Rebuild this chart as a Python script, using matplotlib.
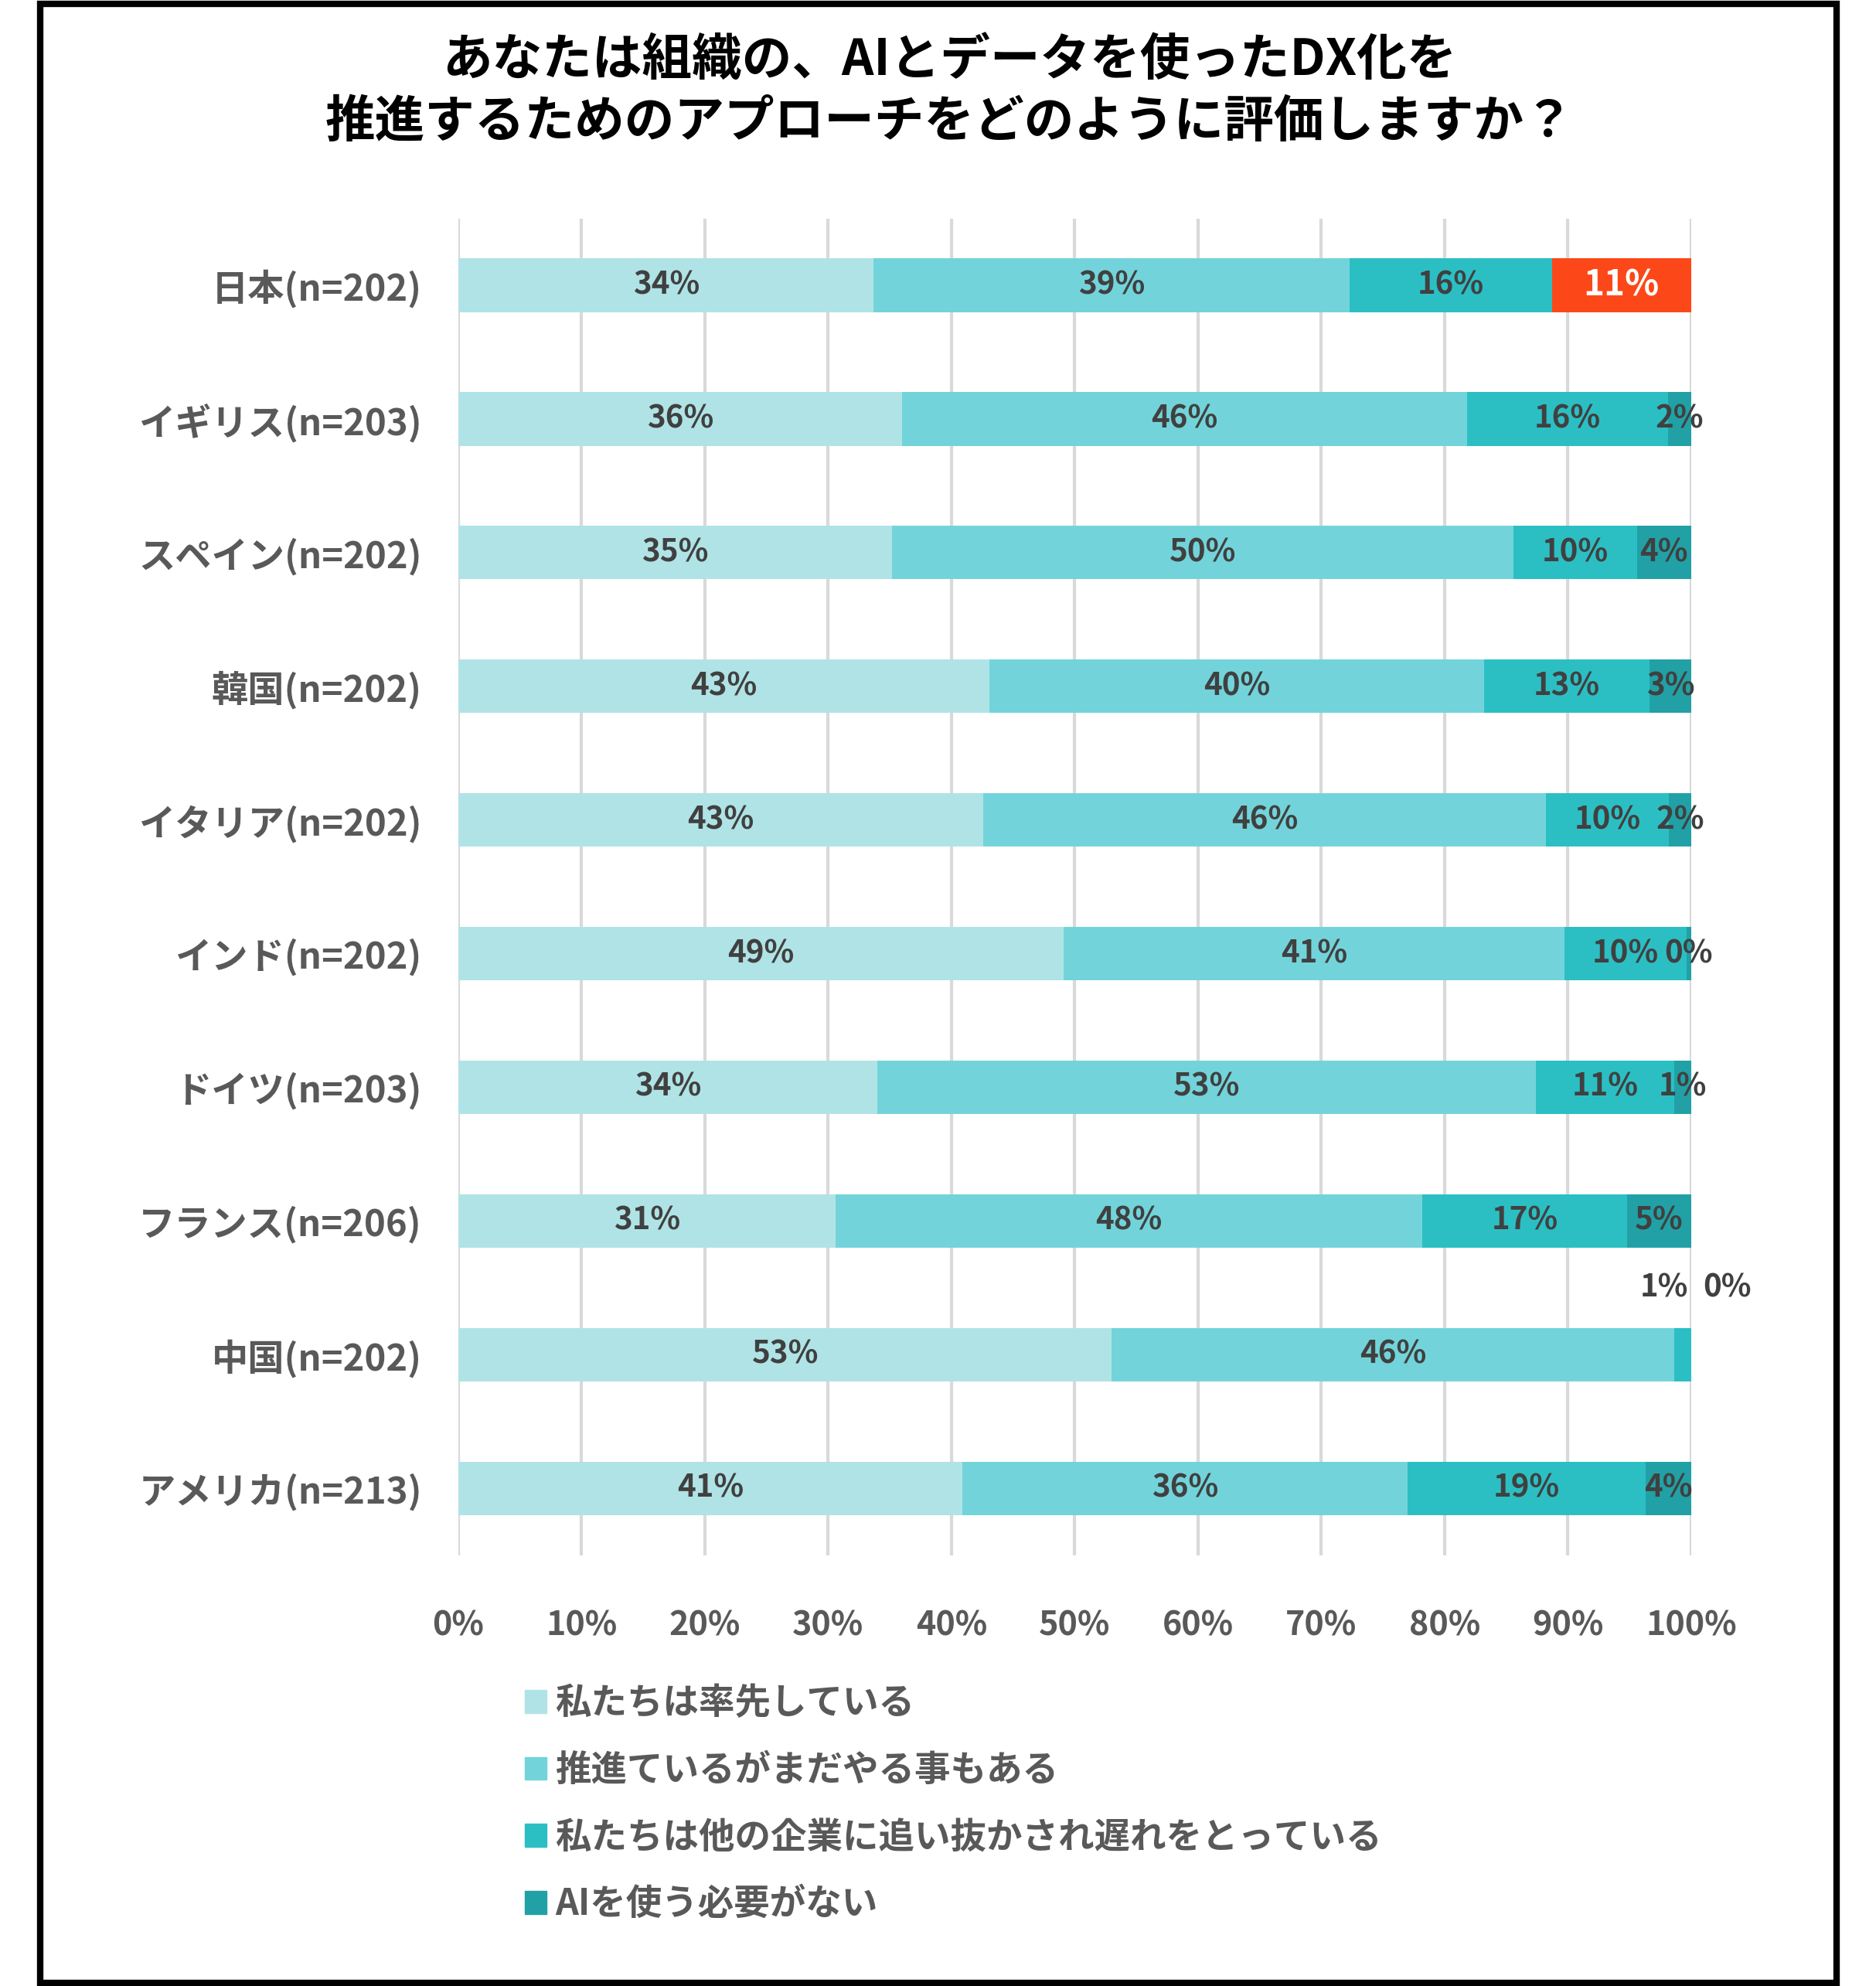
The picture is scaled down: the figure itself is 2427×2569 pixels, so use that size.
import numpy as np
import matplotlib.pyplot as plt
from matplotlib.patches import Rectangle

plt.rcParams['font.family'] = ['Noto Sans CJK JP', 'DejaVu Sans']
plt.rcParams['font.weight'] = 'bold'

# countries, top to bottom
countries = ['日本(n=202)', 'イギリス(n=203)', 'スペイン(n=202)', '韓国(n=202)',
             'イタリア(n=202)', 'インド(n=202)', 'ドイツ(n=203)', 'フランス(n=206)',
             '中国(n=202)', 'アメリカ(n=213)']

# shares in %
leading = [33.7, 36.0, 35.2, 43.1, 42.6, 49.1, 34.0, 30.6, 53.0, 40.9]
promoting = [38.6, 45.8, 50.4, 40.1, 45.6, 40.6, 53.4, 47.6, 45.6, 36.1]
behind = [16.4, 16.3, 10.0, 13.4, 10.0, 9.9, 11.2, 16.6, 1.4, 19.3]
no_need = [11.3, 1.9, 4.4, 3.4, 1.8, 0.4, 1.4, 5.2, 0.0, 3.7]

series_names = ['私たちは率先している', '推進ているがまだやる事もある',
                '私たちは他の企業に追い抜かされ遅れをとっている', 'AIを使う必要がない']
colors = ['#B0E3E6', '#72D4DA', '#2BBFC4', '#21A1A6']
highlight = '#FC4819'

title = 'あなたは組織の、AIとデータを使ったDX化を\n推進するためのアプローチをどのように評価しますか？'

gray = '#595959'
label_col = '#404040'

fig = plt.figure(figsize=(24.27, 25.69), dpi=100)
ax = fig.add_axes([0.2443, 0.217, 0.6572, 0.673])

series = [leading, promoting, behind, no_need]
y = np.arange(len(countries))
left = np.zeros(len(countries))
for k, vals in enumerate(series):
    vals = np.array(vals)
    cols = [colors[k]] * len(countries)
    if k == 3:
        cols[0] = highlight
    ax.barh(y, vals, left=left, height=0.4, color=cols, zorder=2,
            label=series_names[k])
    for i, v in enumerate(vals):
        cx = left[i] + v / 2
        cy = y[i]
        txt = '%d%%' % round(v)
        c = label_col
        fs = 29
        if k == 3 and i == 0:
            c = 'white'
            fs = 33
        if countries[i].startswith('中国') and k >= 2:
            # small segments: labels moved above the bar
            cx = 97.8 if k == 2 else 102.9
            cy = y[i] - 0.5
        ax.text(cx, cy, txt, ha='center', va='center', fontsize=fs,
                color=c, fontweight='bold', zorder=3)
    left += vals

ax.set_xlim(0, 100)
ax.set_ylim(len(countries) - 0.5, -0.5)
ax.set_xticks(np.arange(0, 101, 10))
ax.set_xticklabels(['%d%%' % t for t in range(0, 101, 10)])
ax.set_yticks(y)
ax.set_yticklabels(countries)
ax.tick_params(axis='x', labelsize=31, colors=gray, length=0, pad=50)
ax.tick_params(axis='y', labelsize=34, colors=gray, length=0, pad=34)
ax.grid(axis='x', color='#D9D9D9', linewidth=3, zorder=0)
for s in ax.spines.values():
    s.set_visible(False)

fig.text(0.506, 0.954, title, ha='center', va='center', fontsize=46.5,
         fontweight='bold', color='black', linespacing=1.3)

handles, labels = ax.get_legend_handles_labels()
leg = fig.legend(handles, labels, loc='upper left', bbox_to_anchor=(0.2625, 0.168),
                 frameon=False, fontsize=33.5, handlelength=0.6, handleheight=0.6,
                 handletextpad=0.25, labelspacing=0.83, labelcolor=gray)
for i, h in enumerate(leg.legend_handles):
    h.set_color(colors[i])

fig.patches.append(Rectangle((0.0215, 0.0015), 0.9575, 0.9965, transform=fig.transFigure,
                             fill=False, edgecolor='black', linewidth=6))

fig.savefig('out.png', dpi=100)
